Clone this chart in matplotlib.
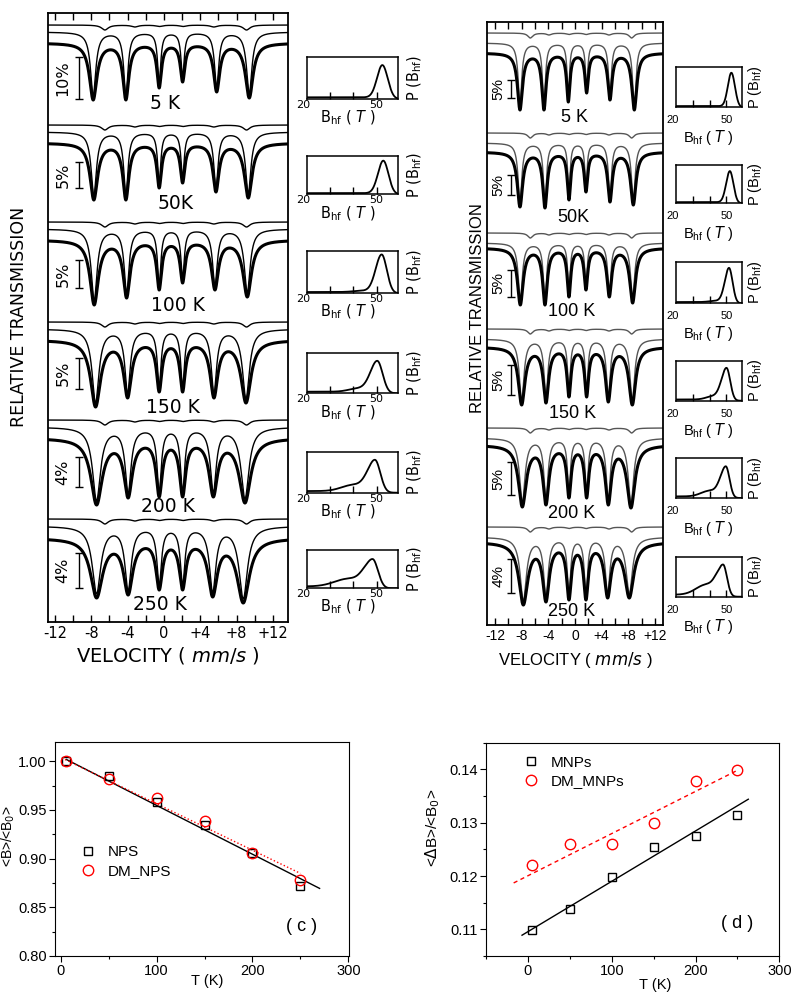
import numpy as np
import matplotlib
matplotlib.use("Agg")
import matplotlib.pyplot as plt
from matplotlib.ticker import MultipleLocator, FixedLocator

plt.rcParams['font.family'] = ['DejaVu Sans']
plt.rcParams['mathtext.fontset'] = 'custom'
plt.rcParams['mathtext.rm'] = 'DejaVu Sans'
plt.rcParams['mathtext.it'] = 'DejaVu Sans:italic'

W, H = 792, 992

# ---------------- Mossbauer spectra ----------------
temps = ['5 K', '50K', '100 K', '150 K', '200 K', '250 K']
scale_l = ['10%', '5%', '5%', '5%', '4%', '4%']
scale_r = ['5%', '5%', '5%', '5%', '5%', '4%']

# sextet line positions (mm/s)
lines_l = [[-7.79, -4.19, -0.52, 2.06, 5.81, 9.40],
           [-7.72, -4.19, -0.52, 2.06, 5.73, 9.29],
           [-7.68, -4.11, -0.52, 2.06, 5.62, 9.18],
           [-7.53, -4.00, -0.52, 2.06, 5.51, 9.04],
           [-7.42, -3.94, -0.52, 2.06, 5.44, 8.93],
           [-7.42, -3.94, -0.52, 2.06, 5.37, 8.74]]
lines_r = [[-8.25, -4.65, -1.00, 1.75, 5.25, 8.90],
           [-8.25, -4.50, -0.90, 1.65, 5.25, 8.75],
           [-8.20, -4.50, -0.90, 1.65, 5.15, 8.65],
           [-8.00, -4.35, -0.90, 1.75, 5.00, 8.60],
           [-7.90, -4.35, -0.90, 1.75, 5.00, 8.40],
           [-7.75, -4.35, -0.90, 1.65, 4.90, 8.15]]
# dip bottoms, measured downwards from the top line of each block
depth_l = [[75, 75, 63, 57, 67, 73],
           [75, 75, 63, 58, 67, 73],
           [83, 76, 68, 61, 68, 75],
           [85, 76, 70, 70, 76, 81],
           [85, 78, 77, 77, 77, 83],
           [79, 76, 71, 71, 78, 84]]
depth_r = [[77, 77, 69, 60, 67, 77],
           [74, 75, 67, 59, 69, 72],
           [72, 72, 64, 57, 64, 70],
           [76, 74, 68, 68, 73, 76],
           [79, 77, 70, 70, 77, 80],
           [78, 75, 73, 73, 71, 71]]
# Lorentzian half widths (mm/s)
gam_l = [[0.50, 0.40, 0.30, 0.30, 0.40, 0.50],
         [0.50, 0.40, 0.30, 0.30, 0.40, 0.50],
         [0.55, 0.45, 0.32, 0.32, 0.45, 0.55],
         [0.65, 0.50, 0.35, 0.35, 0.50, 0.65],
         [0.75, 0.55, 0.40, 0.40, 0.55, 0.75],
         [0.80, 0.60, 0.42, 0.42, 0.60, 0.80]]
gam_r = [[0.45, 0.38, 0.30, 0.30, 0.38, 0.45],
         [0.48, 0.40, 0.30, 0.30, 0.40, 0.48],
         [0.52, 0.42, 0.32, 0.32, 0.42, 0.52],
         [0.60, 0.48, 0.35, 0.35, 0.48, 0.60],
         [0.70, 0.52, 0.38, 0.38, 0.52, 0.70],
         [0.80, 0.58, 0.42, 0.42, 0.58, 0.80]]
tops_l = [25, 125, 222, 322, 420, 519]
tops_r = [33, 133, 233, 329, 428, 527]
base_off_l = [18, 18, 18, 18, 18, 19]
base_off_r = [20, 19, 15, 18, 17, 15]
minor_pos_l = [-6.5, -3.2, -0.5, 2.1, 5.5, 9.1]
minor_pos_r = [-6.7, -3.9, -0.9, 1.7, 5.1, 8.5]
minor_depth = [5, 2, 1.5, 1.5, 2, 5]
bars_l = [(57, 99), (162, 188), (260, 288), (358, 389), (457, 487), (553, 588)]
bars_r = [(80, 98), (175, 195), (270, 297), (365, 395), (462, 495), (559, 593)]
temp_x_l = [0.11, 1.32, 1.54, 0.99, 0.44, -0.44]
temp_dy_l = [78, 78, 83, 85, 86, 85]
temp_x_r = [0.0, -0.3, -0.45, -0.3, -0.45, -0.45]
temp_dy_r = [84, 84, 79, 85, 85, 85]

# hyperfine field distributions P(Bhf)
pb_c_l = [52.5, 52.9, 52.2, 50.3, 49.3, 48.3]
pb_h_l = [0.84, 0.90, 0.94, 0.85, 0.84, 0.81]
pb_slo_l = [2.3, 2.3, 2.6, 3.0, 3.2, 3.5]
pb_shi_l = [2.3, 2.2, 2.2, 2.3, 2.3, 2.3]
pb_tail_l = [0.0, 0.0, 0.03, 0.08, 0.15, 0.20]
pb_tailc_l = [44, 44, 44, 42, 40, 38]
pb_tails_l = [4, 4, 4, 4, 5, 6]
pb_base_l = [0.04, 0.03, 0.03, 0.04, 0.04, 0.05]
pb_c_r = [52.9, 52.0, 51.5, 50.0, 49.6, 48.0]
pb_h_r = [0.88, 0.87, 0.88, 0.85, 0.83, 0.85]
pb_slo_r = [2.1, 2.2, 2.5, 3.0, 3.2, 3.6]
pb_shi_r = [2.1, 2.1, 2.1, 2.2, 2.2, 2.3]
pb_tail_r = [0.0, 0.0, 0.03, 0.08, 0.14, 0.25]
pb_tailc_r = [44, 44, 44, 42, 40, 38]
pb_tails_r = [4, 4, 4, 4, 5, 6]
pb_base_r = [0.03, 0.03, 0.03, 0.03, 0.04, 0.05]
box_y_l = [(56.7, 99), (155.7, 194.3), (250.7, 293.3), (353.3, 393.3), (451.7, 492.7), (550, 588.3)]
box_y_r = [(66.7, 107.3), (165, 203.3), (261.7, 303.3), (360.7, 400.7), (458, 498), (556.7, 596.7)]

# ---------------- (c) and (d) ----------------
T = [5, 50, 100, 150, 200, 250]
nps = [1.000, 0.985, 0.958, 0.934, 0.906, 0.872]
dm_nps = [1.000, 0.982, 0.962, 0.939, 0.906, 0.878]
fit_nps_x = [6, 270]
fit_nps_y = [1.0017, 0.8694]
fit_dm_nps_x = [1, 250]
fit_dm_nps_y = [1.0034, 0.8848]
mnps = [0.1099, 0.1139, 0.1198, 0.1255, 0.1275, 0.1315]
dm_mnps = [0.1221, 0.1260, 0.1260, 0.1300, 0.1378, 0.1398]
fit_mnps_x = [-7, 263]
fit_mnps_y = [0.1089, 0.1344]
fit_dm_mnps_x = [-17, 251]
fit_dm_mnps_y = [0.1187, 0.1399]


def px_axes(fig, x0, y0, x1, y1):
    return fig.add_axes([x0 / W, 1 - y1 / H, (x1 - x0) / W, (y1 - y0) / H])


def lorentz_sum(v, pos, depth, gam):
    pos = np.asarray(pos, float)
    depth = np.asarray(depth, float)
    gam = np.asarray(gam, float)
    # amplitudes so that the summed curve reaches the read depth at each line
    M = 1.0 / (1.0 + ((pos[:, None] - pos[None, :]) / gam[None, :]) ** 2)
    amp = np.linalg.solve(M, depth)
    return (amp[None, :] / (1.0 + ((v[:, None] - pos[None, :]) / gam[None, :]) ** 2)).sum(axis=1)


def spectra(fig, rect, xlim, lines, depth, gam, tops, base_off, thin_off, minor_pos,
            temp_x, temp_dy, scales, bars, bar_x, txt_x, thin_col, fam, fs):
    ax = px_axes(fig, *rect)
    ax.set_xlim(*xlim)
    ax.set_ylim(rect[3], rect[1])
    v = np.linspace(xlim[0], xlim[1], 1500)
    for k in range(6):
        t = tops[k]
        ax.plot(v, t + lorentz_sum(v, minor_pos, minor_depth, [0.45] * 6), color=thin_col, lw=1.0)
        thin_depth = [d - thin_off - 4 for d in depth[k]]
        ax.plot(v, t + thin_off + lorentz_sum(v, lines[k], thin_depth, [g * 0.7 for g in gam[k]]),
                color=thin_col, lw=1.0)
        data_depth = [d - base_off[k] for d in depth[k]]
        ax.plot(v, t + base_off[k] + lorentz_sum(v, lines[k], data_depth, gam[k]), color='black', lw=2.2)
        ax.text(temp_x[k], t + temp_dy[k], temps[k], ha='center', va='center', fontsize=fs, family=fam)
        b0, b1 = bars[k]
        ax.errorbar(bar_x, (b0 + b1) / 2, yerr=(b1 - b0) / 2, color='black', lw=1, capsize=3, capthick=1)
        ax.text(txt_x, (b0 + b1) / 2, scales[k], rotation=90, ha='center', va='center',
                fontsize=fs - 2, family=fam)
    ax.set_yticks([])
    ax.set_xticks([-12, -8, -4, 0, 4, 8, 12])
    ax.set_xticklabels(['-12', '-8', '-4', '0', '+4', '+8', '+12'], family=fam, fontsize=fs - 3)
    ax.xaxis.set_minor_locator(FixedLocator([-10, -6, -2, 2, 6, 10]))
    ax.tick_params(axis='x', which='both', direction='in', top=True, bottom=True, length=5, width=1, pad=3)
    for s in ax.spines.values():
        s.set_linewidth(1.3)
    return ax


def pdist_box(fig, x0, x1, y0, y1, c, h, slo, shi, ta, tc, tsig, base, lab_dy, lab_x, fam):
    ax = px_axes(fig, x0, y0, x1, y1)
    B = np.linspace(20, 59, 400)
    s = np.where(B < c, slo, shi)
    left = 1.0 / (1.0 + np.exp((B - c + 3) / 1.0))
    p = base * left + (h - base) * np.exp(-0.5 * ((B - c) / s) ** 2) \
        + ta * np.exp(-0.5 * ((B - tc) / tsig) ** 2) * left
    ax.plot(B, p, color='black', lw=1.3)
    ax.set_xlim(20, 59)
    ax.set_ylim(0, 1)
    ax.set_yticks([])
    ax.set_xticks([30, 40, 50])
    ax.set_xticklabels([])
    ax.tick_params(axis='x', direction='in', length=5, width=1)
    for sp in ax.spines.values():
        sp.set_linewidth(1.1)
    bot = 1 - y1 / H
    fig.text(x0 / W - 0.004, bot - lab_dy[0] / H, '20', ha='center', va='center', fontsize=8, family=fam)
    fig.text((x0 + (x1 - x0) * 30 / 39) / W, bot - lab_dy[0] / H, '50', ha='center', va='center',
             fontsize=8, family=fam)
    fig.text((x0 + (x1 - x0) * lab_x) / W, bot - lab_dy[1] / H, r'B$_{\mathregular{hf}}$ ( $\mathit{T}$ )',
             ha='center', va='center', fontsize=10.5, family=fam)
    fig.text((x1 + lab_dy[2]) / W, 1 - (y0 + y1) / 2 / H, r'P (B$_{\mathregular{hf}}$)', rotation=90,
             ha='center', va='center', fontsize=10.5, family=fam)


fig = plt.figure(figsize=(W / 100, H / 100), dpi=100)

# left block
spectra(fig, (47.7, 13, 288.3, 622), (-12.8, 13.7), lines_l, depth_l, gam_l, tops_l, base_off_l, 7,
        minor_pos_l, temp_x_l, temp_dy_l, scale_l, bars_l, -9.37, -11.14, 'black', 'DejaVu Sans', 13.5)
fig.text(19 / W, 1 - 317 / H, 'RELATIVE TRANSMISSION', rotation=90, ha='center', va='center', fontsize=12.5)
fig.text(168 / W, 1 - 655 / H, r'VELOCITY ( $\mathit{mm/s}$ )', ha='center', va='center', fontsize=14)
for k in range(6):
    pdist_box(fig, 306.7, 397.5, box_y_l[k][0], box_y_l[k][1], pb_c_l[k], pb_h_l[k], pb_slo_l[k],
              pb_shi_l[k], pb_tail_l[k], pb_tailc_l[k], pb_tails_l[k], pb_base_l[k], (6, 19, 17), 0.455,
              'DejaVu Sans')

# right block
spectra(fig, (487.3, 21.7, 663.3, 625), (-13.15, 13.25), lines_r, depth_r, gam_r, tops_r, base_off_r, 10,
        minor_pos_r, temp_x_r, temp_dy_r, scale_r, bars_r, -9.64, -11.5, '#555555', 'Liberation Sans', 13)
fig.text(477 / W, 1 - 308 / H, 'RELATIVE TRANSMISSION', rotation=90, ha='center', va='center',
         fontsize=12, family='Liberation Sans')
fig.text(575 / W, 1 - 660 / H, r'VELOCITY ( $\mathit{mm/s}$ )', ha='center', va='center', fontsize=12,
         family='Liberation Sans')
for k in range(6):
    pdist_box(fig, 675.7, 741.7, box_y_r[k][0], box_y_r[k][1], pb_c_r[k], pb_h_r[k], pb_slo_r[k],
              pb_shi_r[k], pb_tail_r[k], pb_tailc_r[k], pb_tails_r[k], pb_base_r[k], (13, 30, 13), 0.49,
              'Liberation Sans')

# (c)
fam = 'Liberation Sans'
axc = px_axes(fig, 55, 741.7, 349.3, 956)
axc.plot(fit_nps_x, fit_nps_y, color='black', lw=1)
axc.plot(fit_dm_nps_x, fit_dm_nps_y, color='red', lw=1, ls=':')
axc.plot(T, nps, ls='none', marker='s', mfc='none', mec='black', ms=6, mew=1, label='NPS')
axc.plot(T, dm_nps, ls='none', marker='o', mfc='none', mec='red', ms=7.5, mew=1, label='DM_NPS')
axc.set_xlim(-6, 301)
axc.set_ylim(0.80, 1.02)
axc.xaxis.set_major_locator(MultipleLocator(100))
axc.xaxis.set_minor_locator(MultipleLocator(50))
axc.yaxis.set_major_locator(MultipleLocator(0.05))
axc.yaxis.set_minor_locator(MultipleLocator(0.025))
axc.yaxis.set_major_formatter(matplotlib.ticker.FormatStrFormatter('%.2f'))
axc.legend(loc='center left', bbox_to_anchor=(0.04, 0.44), frameon=False, handlelength=1.0,
           handletextpad=0.8, labelspacing=0.3, prop={'family': fam, 'size': 11})
axc.text(0.838, 0.137, '( c )', transform=axc.transAxes, ha='center', va='center', fontsize=13, family=fam)
fig.text(207 / W, 1 - 981 / H, 'T (K)', ha='center', va='center', fontsize=10.5, family=fam)
fig.text(8 / W, 1 - 836 / H, r'<B>/<B$_0$>', rotation=90, ha='center', va='center', fontsize=10, family=fam)

# (d)
axd = px_axes(fig, 486, 742.7, 779.3, 956)
axd.plot(fit_mnps_x, fit_mnps_y, color='black', lw=1)
axd.plot(fit_dm_mnps_x, fit_dm_mnps_y, color='red', lw=1, ls=(0, (3, 2.5)))
axd.plot(T, mnps, ls='none', marker='s', mfc='none', mec='black', ms=6, mew=1, label='MNPs')
axd.plot(T, dm_mnps, ls='none', marker='o', mfc='none', mec='red', ms=7.5, mew=1, label='DM_MNPs')
axd.set_xlim(-50, 300)
axd.set_ylim(0.105, 0.145)
axd.xaxis.set_major_locator(MultipleLocator(100))
axd.xaxis.set_minor_locator(MultipleLocator(50))
axd.yaxis.set_major_locator(MultipleLocator(0.01))
axd.yaxis.set_minor_locator(MultipleLocator(0.005))
axd.yaxis.set_major_formatter(matplotlib.ticker.FormatStrFormatter('%.2f'))
axd.legend(loc='center left', bbox_to_anchor=(0.08, 0.862), frameon=False, handlelength=1.0,
           handletextpad=0.8, labelspacing=0.3, prop={'family': fam, 'size': 11})
axd.text(0.855, 0.153, '( d )', transform=axd.transAxes, ha='center', va='center', fontsize=13, family=fam)
fig.text(655 / W, 1 - 985 / H, 'T (K)', ha='center', va='center', fontsize=10.5, family=fam)
fig.text(433 / W, 1 - 828 / H, r'<$\Delta$B>/<B$_0$>', rotation=90, ha='center', va='center',
         fontsize=11, family=fam)

for ax in (axc, axd):
    ax.tick_params(which='major', direction='out', length=4, width=0.8, labelsize=10.5, pad=2)
    ax.tick_params(which='minor', direction='out', length=2.5, width=0.8)
    for lab in ax.get_xticklabels() + ax.get_yticklabels():
        lab.set_family(fam)
    for s in ax.spines.values():
        s.set_linewidth(0.8)

fig.savefig('out.png', dpi=100)
